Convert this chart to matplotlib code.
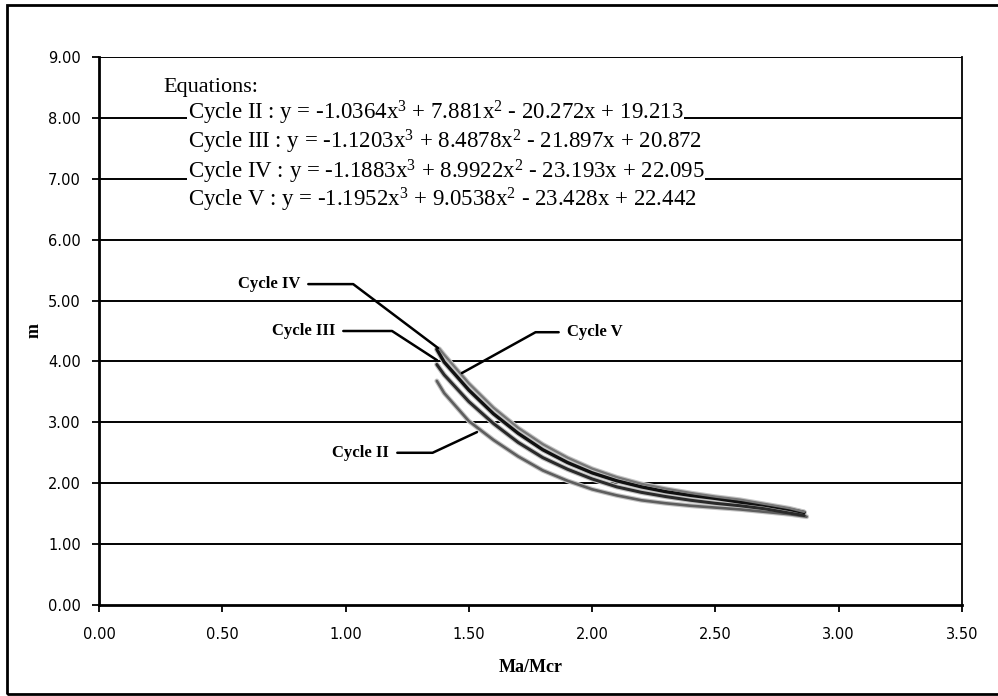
import matplotlib
matplotlib.use("Agg")
import matplotlib.pyplot as plt
from matplotlib.patches import Rectangle
from matplotlib.ticker import FormatStrFormatter

# Ratio Ma/Mcr and exponent m for each loading cycle
x_c2 = [1.37, 1.40, 1.50, 1.60, 1.70, 1.80, 1.90, 2.00, 2.10, 2.20, 2.30, 2.40, 2.50, 2.60, 2.70, 2.80, 2.87]
m_c2 = [3.68, 3.48, 3.02, 2.71, 2.44, 2.21, 2.04, 1.90, 1.80, 1.72, 1.67, 1.63, 1.60, 1.57, 1.53, 1.49, 1.45]

x_c3 = [1.37, 1.40, 1.50, 1.60, 1.70, 1.80, 1.90, 2.00, 2.10, 2.20, 2.30, 2.40, 2.50, 2.60, 2.70, 2.80, 2.86]
m_c3 = [3.95, 3.78, 3.34, 2.98, 2.67, 2.42, 2.23, 2.07, 1.94, 1.85, 1.78, 1.72, 1.67, 1.63, 1.58, 1.51, 1.47]

x_c4 = [1.37, 1.40, 1.50, 1.60, 1.70, 1.80, 1.90, 2.00, 2.10, 2.20, 2.30, 2.40, 2.50, 2.60, 2.70, 2.80, 2.86]
m_c4 = [4.20, 3.99, 3.53, 3.14, 2.82, 2.55, 2.34, 2.17, 2.04, 1.94, 1.86, 1.80, 1.75, 1.69, 1.64, 1.57, 1.52]

x_c5 = [1.38, 1.40, 1.50, 1.60, 1.70, 1.80, 1.90, 2.00, 2.10, 2.20, 2.30, 2.40, 2.50, 2.60, 2.70, 2.80, 2.86]
m_c5 = [4.21, 4.11, 3.64, 3.24, 2.91, 2.64, 2.42, 2.24, 2.10, 1.99, 1.91, 1.84, 1.78, 1.73, 1.66, 1.59, 1.53]

equations = [
    r"Cycle II : y = -1.0364x$^3$ + 7.881x$^2$ - 20.272x + 19.213",
    r"Cycle III : y = -1.1203x$^3$ + 8.4878x$^2$ - 21.897x + 20.872",
    r"Cycle IV : y = -1.1883x$^3$ + 8.9922x$^2$ - 23.193x + 22.095",
    r"Cycle V : y = -1.1952x$^3$ + 9.0538x$^2$ - 23.428x + 22.442",
]
x_ticks = [0.0, 0.5, 1.0, 1.5, 2.0, 2.5, 3.0, 3.5]
y_ticks = [0, 1, 2, 3, 4, 5, 6, 7, 8, 9]

SERIF = ["Liberation Serif", "DejaVu Serif"]
plt.rcParams["mathtext.fontset"] = "custom"
plt.rcParams["mathtext.rm"] = "Liberation Serif"
plt.rcParams["mathtext.it"] = "Liberation Serif"
plt.rcParams["mathtext.bf"] = "Liberation Serif:bold"

fig = plt.figure(figsize=(9.98, 6.96), dpi=100)
ax = fig.add_axes([99 / 998, 91 / 696, 863 / 998, 548 / 696])

ax.set_xlim(0, 3.5)
ax.set_ylim(0, 9)
ax.set_xticks(x_ticks)
ax.set_yticks(y_ticks)
ax.xaxis.set_major_formatter(FormatStrFormatter("%.2f"))
ax.yaxis.set_major_formatter(FormatStrFormatter("%.2f"))
ax.tick_params(axis="both", direction="out", length=5, width=1.3, colors="black",
               labelsize=10.5)
ax.tick_params(axis="x", pad=11)
ax.tick_params(axis="y", pad=8)
for lab in ax.get_xticklabels() + ax.get_yticklabels():
    lab.set_family("DejaVu Sans")

for v in y_ticks[1:]:
    ax.axhline(v, color="black", lw=1.4, zorder=1)

ax.spines["left"].set_linewidth(2.0)
ax.spines["bottom"].set_linewidth(2.0)
ax.spines["right"].set_linewidth(1.3)
ax.spines["top"].set_visible(False)

# Cycle curves: a grainy grey halo with a darker core
series = [
    (x_c2, m_c2, "#5e5e5e", 1.9),
    (x_c3, m_c3, "#2a2a2a", 2.2),
    (x_c4, m_c4, "#111111", 2.4),
    (x_c5, m_c5, "#777777", 1.7),
]
for xs, ys, col, lw in series:
    ax.plot(xs, ys, color="#c4c4c4", lw=lw + 1.6, solid_capstyle="round", zorder=2)
    ax.plot(xs, ys, color=col, lw=lw, solid_capstyle="round", zorder=3)

ax.set_xlabel("Ma/Mcr", family=SERIF, fontweight="bold", fontsize=13, labelpad=12)
ax.set_ylabel("m", family=SERIF, fontweight="bold", fontsize=13, labelpad=4)

# Equation block
ax.text(0.26, 8.42, "Equations:", family=SERIF, fontsize=16, va="baseline", ha="left",
        zorder=5)
eq_base = [7.98, 7.49, 7.01, 6.54]
for yb, s in zip(eq_base, equations):
    ax.text(0.361, yb, s, family=SERIF, fontsize=16.5, va="baseline", ha="left", zorder=5,
            bbox=dict(facecolor="white", edgecolor="none", pad=0.5))

# Leader labels for each cycle
labels = [
    ("Cycle IV", (1.375, 4.22), (0.815, 5.27), "right", -37),
    ("Cycle III", (1.371, 4.02), (0.957, 4.50), "right", -33),
    ("Cycle II", (1.533, 2.84), (1.176, 2.50), "right", 25),
    ("Cycle V", (1.472, 3.81), (1.898, 4.48), "left", 29),
]
for txt, xy, xyt, ha, ang in labels:
    ax.annotate(txt, xy=xy, xytext=xyt, textcoords="data", ha=ha, va="center",
                family=SERIF, fontweight="bold", fontsize=12, zorder=6,
                arrowprops=dict(arrowstyle="-", color="black", lw=1.8,
                                relpos=(1.0, 0.5) if ha == "right" else (0.0, 0.5),
                                shrinkA=4, shrinkB=0,
                                connectionstyle=f"angle,angleA=0,angleB={ang},rad=0"))

# Outer chart frame
fig.patches.append(Rectangle((7 / 998, 2 / 696), 1.2, 689 / 696, transform=fig.transFigure,
                             fill=False, edgecolor="black", lw=2.0))

fig.savefig("out.png", dpi=100)
